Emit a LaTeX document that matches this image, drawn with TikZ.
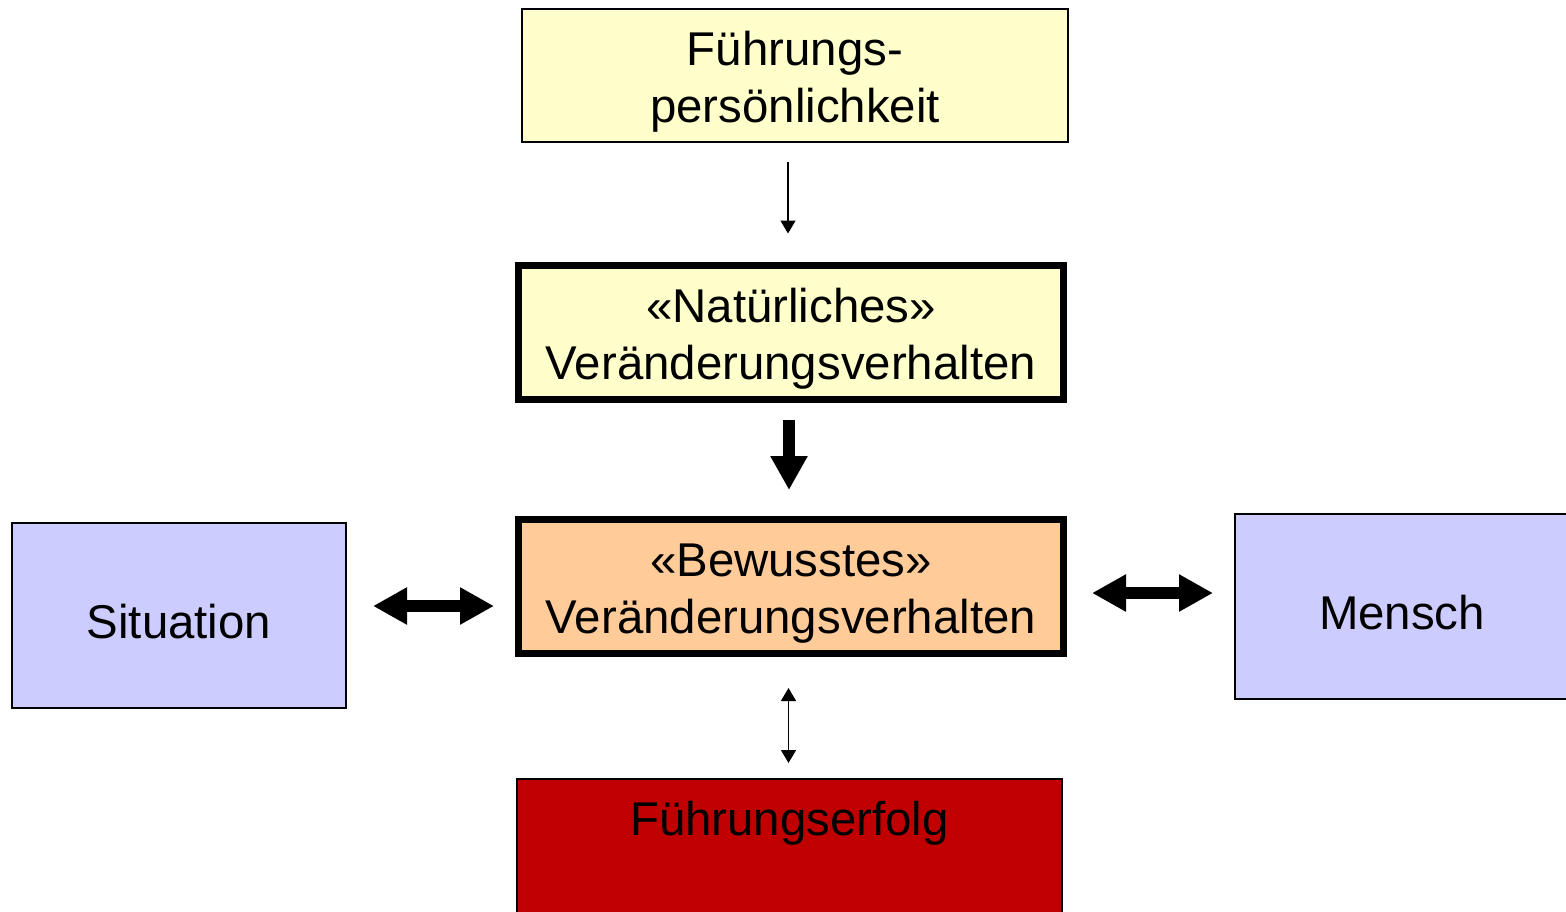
\documentclass[tikz,border=0pt]{standalone}
\usepackage{fontspec}
\setmainfont{Liberation Sans}
\usetikzlibrary{arrows.meta}
\definecolor{hellgelb}{HTML}{FFFFCC}
\definecolor{orange}{HTML}{FFCC99}
\definecolor{lila}{HTML}{CCCCFF}
\definecolor{rot}{HTML}{C00000}
\newcommand{\hoch}{\rule{0pt}{23.5pt}}
\begin{document}
\begin{tikzpicture}[x=0.5pt,y=-0.5pt,
    every node/.style={font=\fontsize{23.7}{28.5}\selectfont, align=center, inner sep=0pt},
    box/.style={draw, line width=1pt, minimum width=#1},
    dick/.style={draw, line width=3.5pt, minimum width=272.5pt, minimum height=67pt},
    duenn/.style={line width=0.75pt, -{Triangle[width=7.5pt,length=6.5pt]}},
    duenn2/.style={line width=0.75pt, {Triangle[width=7.5pt,length=6.5pt]}-{Triangle[width=7.5pt,length=6.5pt]}},
    fett/.style={line width=6pt, -{Triangle[width=17.5pt,length=17pt]}},
    fett2/.style={line width=6pt, {Triangle[width=17.5pt,length=17pt]}-{Triangle[width=17.5pt,length=17pt]}}]
      \path[use as bounding box, clip] (0,0) rectangle (1566,911);
      \node (fp) [box=273pt, minimum height=66.5pt, fill=hellgelb] at (795,75.5) {\hoch Führungs-\\persönlichkeit};
      \node (nv) [dick, fill=hellgelb] at (791,332) {\hoch«Natürliches»\\Veränderungsverhalten};
      \node (bv) [dick, fill=orange] at (791,586.5) {\hoch«Bewusstes»\\Veränderungsverhalten};
      \node (si) [box=167pt, minimum height=92.5pt, fill=lila, text height=23pt] at (179,615.5) {Situation};
      \node (me) [box=167pt, minimum height=92.5pt, fill=lila, text height=23pt] at (1402,606.5) {Mensch};
      \node (fe) [box=272.5pt, minimum height=110pt, fill=rot] at (789.5,889) {};
      \node (fet) [anchor=base] at (789.5,835) {Führungserfolg};
      \draw [duenn, shorten <=9.5pt, shorten >=14pt] ([xshift=-3.5pt]fp.south) -- ([xshift=-3.5pt]fp.south |- nv.north);
      \draw [fett, shorten <=8.5pt, shorten >=13pt] ([xshift=-1pt]nv.south) -- ([xshift=-1pt]nv.south |- bv.north);
      \draw [fett2, shorten <=13pt, shorten >=10.5pt] ([yshift=4.75pt]si.east) -- ([yshift=4.75pt]si.east -| bv.west);
      \draw [fett2, shorten <=12.5pt, shorten >=10.5pt] ([yshift=-3.25pt]bv.east) -- ([yshift=-3.25pt]bv.east -| me.west);
      \draw [duenn2, shorten <=15.5pt, shorten >=7.5pt] ([xshift=-1.25pt]bv.south) -- ([xshift=-1.25pt]bv.south |- fe.north);
    \end{tikzpicture}
\end{document}
